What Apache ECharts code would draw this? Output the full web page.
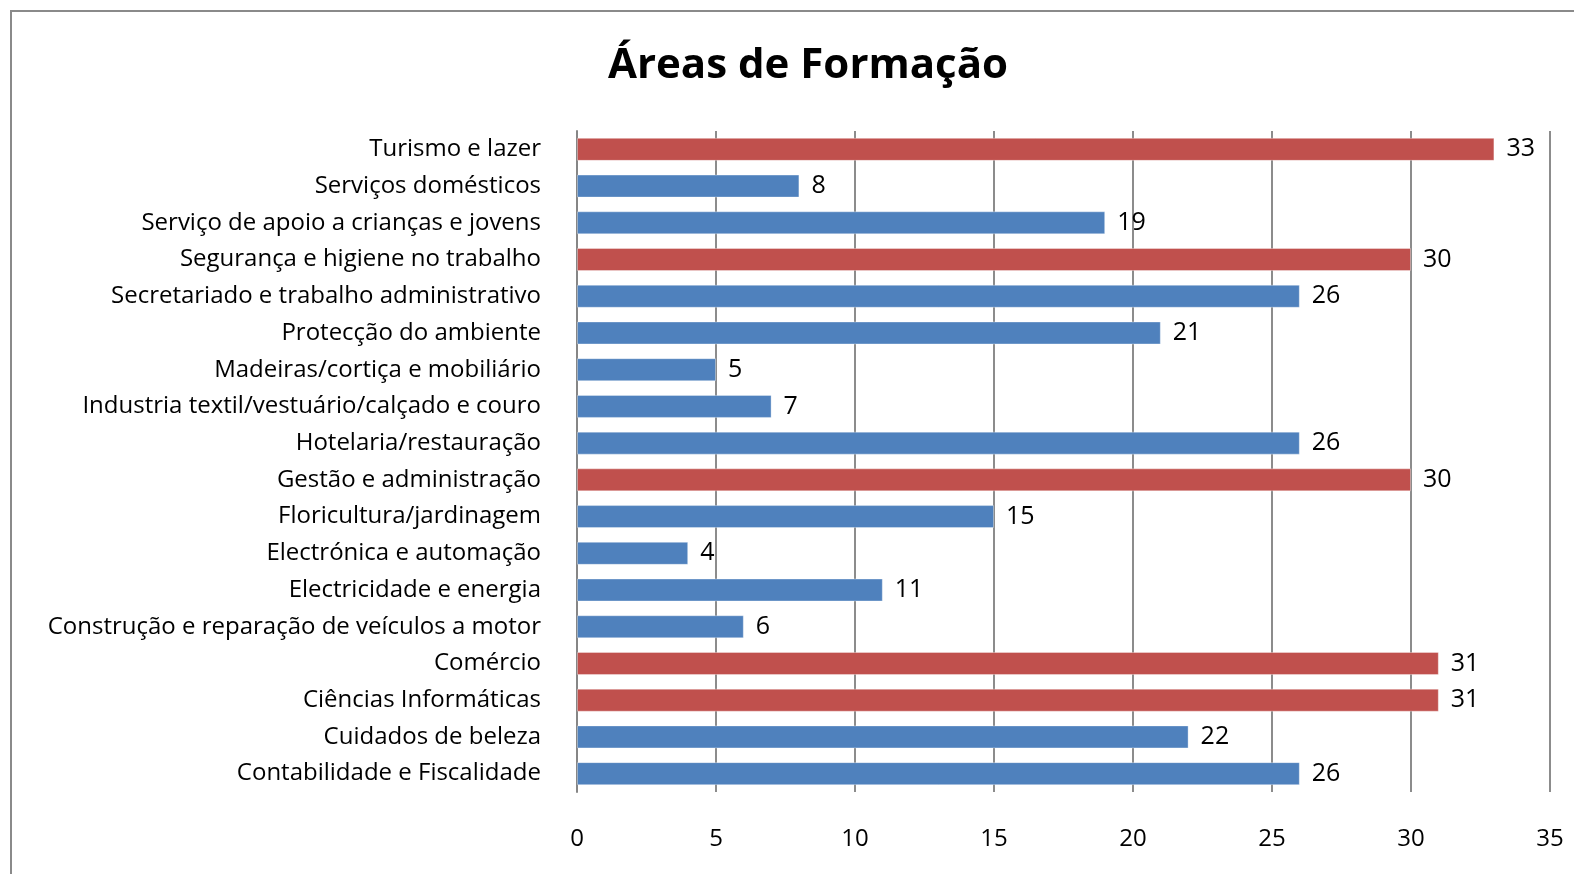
<!DOCTYPE html>
<html>
<head>
<meta charset="utf-8">
<script src="https://cdn.jsdelivr.net/npm/echarts@6/dist/echarts.min.js"></script>
<style>
html,body{margin:0;padding:0;background:#fff;}
#main{width:1574px;height:874px;}
</style>
</head>
<body>
<div id="main"></div>
<script>
var categories = ['Turismo e lazer', 'Serviços domésticos', 'Serviço de apoio a crianças e jovens',
	'Segurança e higiene no trabalho', 'Secretariado e trabalho administrativo', 'Protecção do ambiente',
	'Madeiras/cortiça e mobiliário', 'Industria textil/vestuário/calçado e couro', 'Hotelaria/restauração',
	'Gestão e administração', 'Floricultura/jardinagem', 'Electrónica e automação', 'Electricidade e energia',
	'Construção e reparação de veículos a motor', 'Comércio', 'Ciências Informáticas', 'Cuidados de beleza',
	'Contabilidade e Fiscalidade'];
var values = [33, 8, 19, 30, 26, 21, 5, 7, 26, 30, 15, 4, 11, 6, 31, 31, 22, 26];
var xTicks = [0, 5, 10, 15, 20, 25, 30, 35];

var font = '"Open Sans", sans-serif';
var myChart = echarts.init(document.getElementById('main'));
var option = {
	backgroundColor: '#fff',
	animation: false,
	title: {
		text: 'Áreas de Formação',
		left: 603,
		top: 40,
		textStyle: {
			fontFamily: font,
			fontSize: 42,
			fontWeight: 'bold',
			color: '#000'
		}
	},
	graphic: [{
		type: 'rect',
		shape: { x: 11, y: 11, width: 1600, height: 900 },
		style: { fill: 'none', stroke: '#8a8a8a', lineWidth: 2 },
		silent: true
	}],
	grid: {
		left: 577,
		right: 24,
		top: 131,
		bottom: 82
	},
	xAxis: {
		type: 'value',
		min: xTicks[0],
		max: xTicks[xTicks.length - 1],
		interval: 5,
		axisLine: { show: false },
		axisTick: { show: false },
		splitLine: { lineStyle: { color: '#8c8c8c', width: 2 } },
		axisLabel: {
			margin: 35,
			fontFamily: font,
			fontSize: 24,
			color: '#000'
		}
	},
	yAxis: {
		type: 'category',
		inverse: true,
		data: categories,
		axisLine: { lineStyle: { color: '#868686', width: 2 } },
		axisTick: { show: false },
		axisLabel: {
			margin: 36,
			fontFamily: font,
			fontSize: 24,
			color: '#000'
		}
	},
	series: [{
		type: 'bar',
		data: values,
		barWidth: 23,
		itemStyle: {
			color: function (p) {
				return p.value >= 30 ? '#C0504D' : '#4F81BD';
			},
			borderColor: 'rgba(255,255,255,0.35)',
			borderWidth: 1
		},
		label: {
			show: true,
			position: 'right',
			distance: 12,
			fontFamily: font,
			fontSize: 25,
			color: '#000'
		}
	}]
};
myChart.setOption(option);
</script>
</body>
</html>
